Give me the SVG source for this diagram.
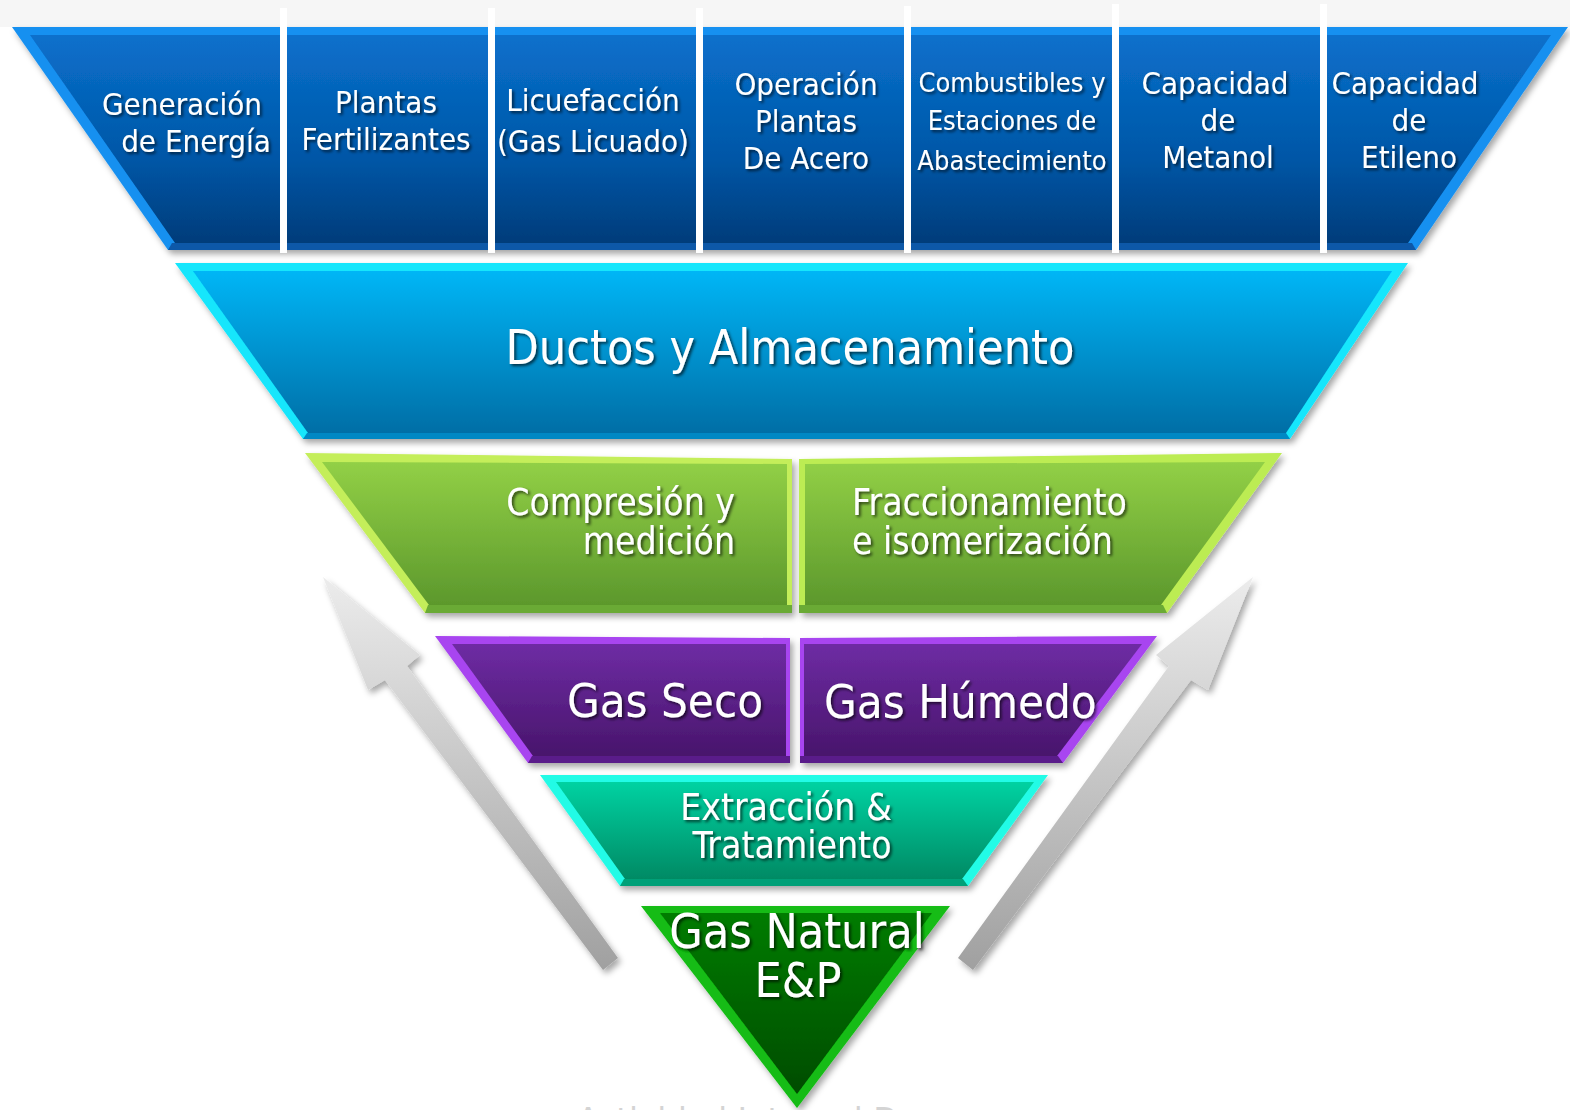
<svg xmlns="http://www.w3.org/2000/svg" width="1570" height="1110" viewBox="0 0 1570 1110">
<style>
.t{font-family:"DejaVu Sans Condensed","DejaVu Sans",sans-serif;fill:#fff;filter:url(#ts)}
.c{text-anchor:middle}
.e{text-anchor:end}
.s{text-anchor:start}
.sep{fill:#fff}
</style>
<defs>
<filter id="ds" x="-10%" y="-10%" width="120%" height="130%"><feDropShadow dx="3" dy="4" stdDeviation="3" flood-color="#000" flood-opacity="0.35"/></filter>
<filter id="ts" x="-10%" y="-20%" width="120%" height="150%"><feDropShadow dx="2" dy="2" stdDeviation="1.5" flood-color="#000" flood-opacity="0.65"/></filter>
<linearGradient id="gBlue" x1="0" y1="0" x2="0" y2="1"><stop offset="0" stop-color="#0a70cc"/><stop offset="0.6" stop-color="#0056a6"/><stop offset="1" stop-color="#003c7a"/></linearGradient>
<linearGradient id="gCyan" x1="0" y1="0" x2="0" y2="1"><stop offset="0" stop-color="#00b6f6"/><stop offset="1" stop-color="#006ea6"/></linearGradient>
<linearGradient id="gLime" x1="0" y1="0" x2="0" y2="1"><stop offset="0" stop-color="#92d046"/><stop offset="1" stop-color="#5c982c"/></linearGradient>
<linearGradient id="gPurp" x1="0" y1="0" x2="0" y2="1"><stop offset="0" stop-color="#6e2ca4"/><stop offset="1" stop-color="#48156c"/></linearGradient>
<linearGradient id="gTeal" x1="0" y1="0" x2="0" y2="1"><stop offset="0" stop-color="#00d2a2"/><stop offset="1" stop-color="#008a64"/></linearGradient>
<linearGradient id="gGreen" x1="0" y1="0" x2="0" y2="1"><stop offset="0" stop-color="#007c00"/><stop offset="1" stop-color="#004c00"/></linearGradient>
<linearGradient id="gArrow" x1="0" y1="0" x2="0" y2="1"><stop offset="0" stop-color="#ececec"/><stop offset="1" stop-color="#a0a0a0"/></linearGradient>
</defs>
<rect x="0" y="0" width="1570" height="1110" fill="#ffffff"/>
<rect x="0" y="0" width="1570" height="27" fill="#f6f6f6"/>

<g id="downstream-band" filter="url(#ds)">
<polygon points="12,27 1568,27 1416,250 168,250" fill="#1690f0"/>
<polygon points="172,243 1412,243 1416,250 168,250" fill="#0a58a8"/>
<polygon points="30,35 1551,35 1408,243 175,243" fill="url(#gBlue)"/>
</g>
<g id="separators">
<rect class="sep" x="280" y="8" width="7" height="245"/>
<rect class="sep" x="488" y="8" width="7" height="245"/>
<rect class="sep" x="696" y="8" width="7" height="245"/>
<rect class="sep" x="904" y="6" width="7" height="247"/>
<rect class="sep" x="1112" y="4" width="7" height="249"/>
<rect class="sep" x="1320" y="4" width="7" height="249"/>
</g>
<g id="generacion-energia">
<text class="t c" x="182" y="115" font-size="31">Generación</text>
<text class="t c" x="196" y="152" font-size="31">de Energía</text>
</g>
<g id="plantas-fertilizantes">
<text class="t c" x="386" y="113" font-size="31">Plantas</text>
<text class="t c" x="386" y="150" font-size="31">Fertilizantes</text>
</g>
<g id="licuefaccion">
<text class="t c" x="593" y="111" font-size="31">Licuefacción</text>
<text class="t c" x="593" y="152" font-size="31">(Gas Licuado)</text>
</g>
<g id="acero">
<text class="t c" x="806" y="95" font-size="31">Operación</text>
<text class="t c" x="806" y="132" font-size="31">Plantas</text>
<text class="t c" x="806" y="169" font-size="31">De Acero</text>
</g>
<g id="combustibles">
<text class="t c" x="1012" y="92" font-size="27">Combustibles y</text>
<text class="t c" x="1012" y="130" font-size="27">Estaciones de</text>
<text class="t c" x="1012" y="170" font-size="27">Abastecimiento</text>
</g>
<g id="metanol">
<text class="t c" x="1215" y="94" font-size="31">Capacidad</text>
<text class="t c" x="1218" y="131" font-size="31">de</text>
<text class="t c" x="1218" y="168" font-size="31">Metanol</text>
</g>
<g id="etileno">
<text class="t c" x="1405" y="94" font-size="31">Capacidad</text>
<text class="t c" x="1409" y="131" font-size="31">de</text>
<text class="t c" x="1409" y="168" font-size="31">Etileno</text>
</g>

<g id="ductos" filter="url(#ds)">
<polygon points="175,263 1408,263 1290,439 303,439" fill="#12e6fc"/>
<polygon points="307,433 1286,433 1290,439 303,439" fill="#0088c4"/>
<polygon points="193,271 1392,271 1286,433 308,433" fill="url(#gCyan)"/>
<text class="t c" x="790" y="364" font-size="48">Ductos y Almacenamiento</text>
</g>

<g id="compresion" filter="url(#ds)">
<polygon points="305,453 792,459 792,613 425,613" fill="#c4ee5a"/>
<polygon points="428,605 792,605 792,613 425,613" fill="#6aaa34"/>
<polygon points="322,462 787,464 787,605 429,605" fill="url(#gLime)"/>
<text class="t e" x="735" y="515" font-size="37">Compresión y</text>
<text class="t e" x="735" y="554" font-size="37">medición</text>
</g>
<g id="fraccionamiento" filter="url(#ds)">
<polygon points="799,459 1282,453 1167,613 799,613" fill="#bcec52"/>
<polygon points="799,605 1163,605 1167,613 799,613" fill="#6aaa34"/>
<polygon points="805,464 1265,462 1161,605 805,605" fill="url(#gLime)"/>
<text class="t s" x="852" y="515" font-size="37">Fraccionamiento</text>
<text class="t s" x="852" y="554" font-size="37">e isomerización</text>
</g>

<g id="gas-seco" filter="url(#ds)">
<polygon points="435,636 790,638 790,763 528,763" fill="#a844f0"/>
<polygon points="532,756 790,756 790,763 528,763" fill="#5a1e8a"/>
<polygon points="452,644 786,644 786,756 533,756" fill="url(#gPurp)"/>
<text class="t e" x="763" y="717" font-size="47">Gas Seco</text>
</g>
<g id="gas-humedo" filter="url(#ds)">
<polygon points="800,638 1157,636 1063,763 800,763" fill="#a844f0"/>
<polygon points="800,756 1058,756 1063,763 800,763" fill="#5a1e8a"/>
<polygon points="804,644 1142,644 1057,756 804,756" fill="url(#gPurp)"/>
<text class="t s" x="824" y="718" font-size="47">Gas Húmedo</text>
</g>

<g id="extraccion" filter="url(#ds)">
<polygon points="540,775 1048,775 968,886 620,886" fill="#22fbe6"/>
<polygon points="624,879 963,879 968,886 620,886" fill="#00a078"/>
<polygon points="556,782 1034,782 962,879 625,879" fill="url(#gTeal)"/>
<text class="t c" x="786" y="820" font-size="37">Extracción &amp;</text>
<text class="t c" x="792" y="858" font-size="37">Tratamiento</text>
</g>

<g id="gas-natural" filter="url(#ds)">
<polygon points="641,906 950,906 797,1108" fill="#12bc12"/>
<polygon points="660,913 932,913 797,1094" fill="url(#gGreen)"/>
<text class="t c" x="797" y="948" font-size="48">Gas Natural</text>
<text class="t c" x="798" y="997" font-size="48">E&amp;P</text>
</g>

<g id="connectors" filter="url(#ds)">
<polygon points="323,577 420,655 407,666 618,958 603,970 385,680 368,690" fill="url(#gArrow)"/>
<polygon points="1253,577 1156,655 1169,666 958,958 973,970 1191,680 1208,690" fill="url(#gArrow)"/>
</g>

<text x="577" y="1133" font-family="DejaVu Sans Condensed, DejaVu Sans, sans-serif" font-size="36" fill="#d4d4d4">Actividad Integral De</text>
</svg>
